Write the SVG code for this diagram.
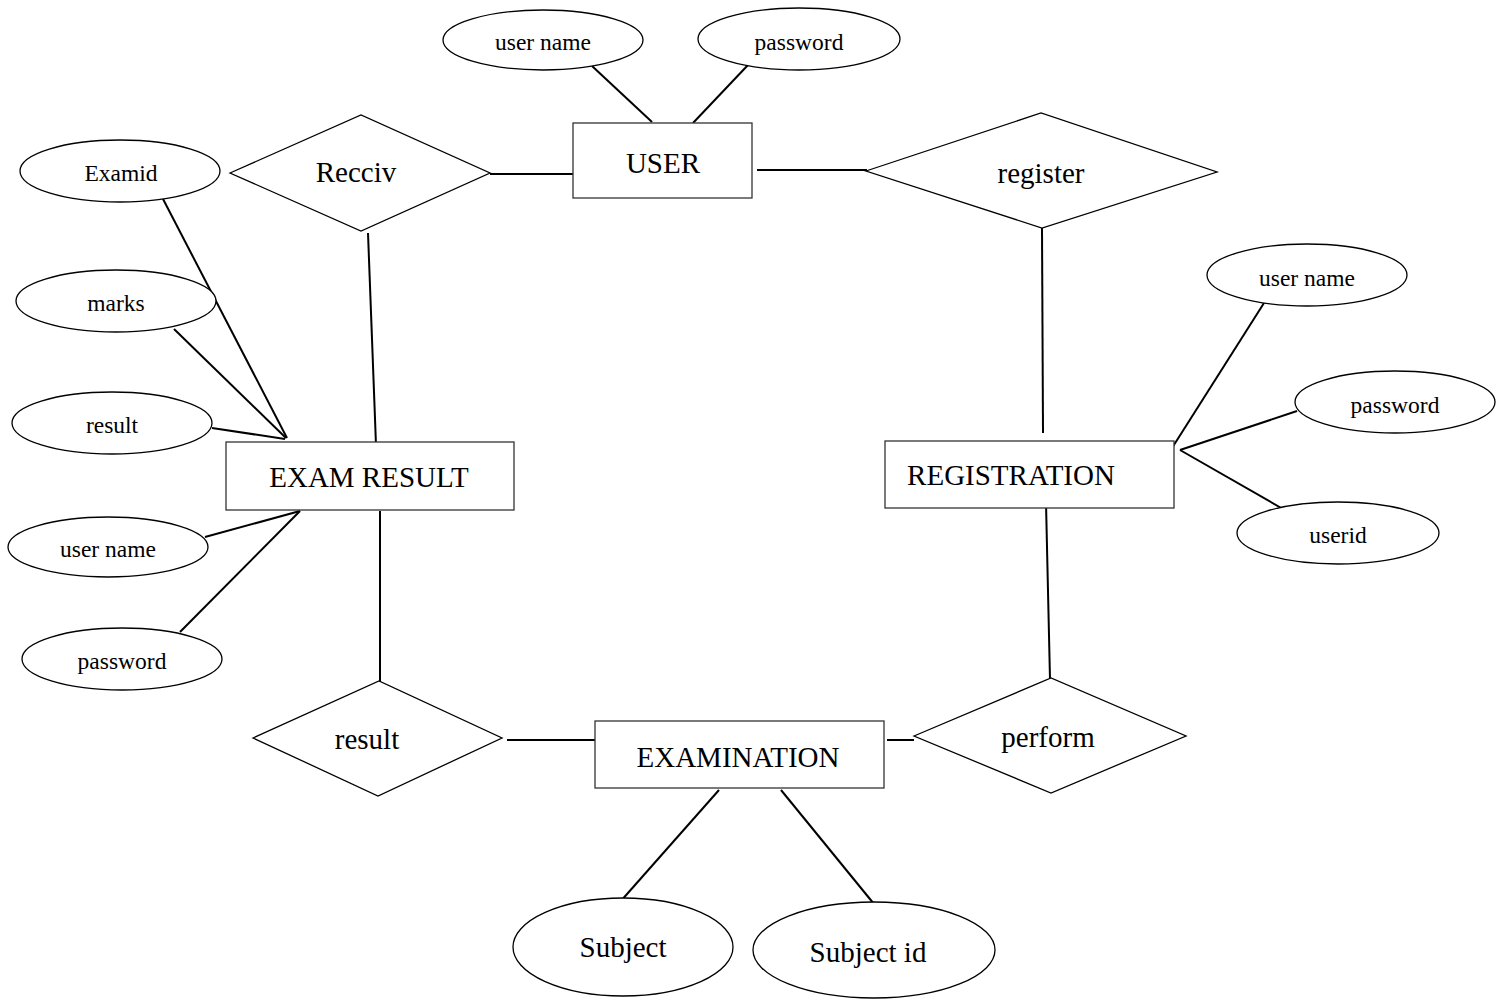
<svg xmlns="http://www.w3.org/2000/svg" width="1504" height="1001" viewBox="0 0 1504 1001">
<style>
.shape{fill:#fff;stroke:#000;stroke-width:1.3}
.ent{fill:#fff;stroke:#333;stroke-width:1.3}
.ln{stroke:#000;stroke-width:2;fill:none}
.big{font-family:"Liberation Serif","Times New Roman",serif;font-size:29px;fill:#000;text-anchor:middle}
.sm{font-family:"Liberation Serif","Times New Roman",serif;font-size:23.5px;fill:#000;text-anchor:middle}
</style>
<rect width="1504" height="1001" fill="#fff"/>
<g id="connectors">
<line class="ln" x1="592" y1="66" x2="652" y2="122"/>
<line class="ln" x1="748" y1="65" x2="693" y2="123"/>
<line class="ln" x1="490" y1="174" x2="576" y2="174"/>
<line class="ln" x1="757" y1="170" x2="867" y2="170"/>
<line class="ln" x1="1042" y1="228" x2="1043" y2="433"/>
<line class="ln" x1="1264" y1="303" x2="1172" y2="448"/>
<line class="ln" x1="1297" y1="411" x2="1180" y2="450"/>
<line class="ln" x1="1180" y1="450" x2="1283" y2="509"/>
<line class="ln" x1="1046" y1="503" x2="1050" y2="679"/>
<line class="ln" x1="887" y1="740" x2="914" y2="740"/>
<line class="ln" x1="507" y1="740" x2="598" y2="740"/>
<line class="ln" x1="719" y1="790" x2="620" y2="902"/>
<line class="ln" x1="781" y1="790" x2="874" y2="904"/>
<line class="ln" x1="163" y1="199" x2="287" y2="438"/>
<line class="ln" x1="174" y1="329" x2="286" y2="438"/>
<line class="ln" x1="212" y1="428" x2="285" y2="439"/>
<line class="ln" x1="368" y1="233" x2="376" y2="445"/>
<line class="ln" x1="205" y1="537" x2="300" y2="511"/>
<line class="ln" x1="180" y1="632" x2="300" y2="511"/>
<line class="ln" x1="380" y1="511" x2="380" y2="683"/>
</g>
<g id="user">
<rect class="ent" x="573" y="123" width="179" height="75"/>
<text class="big" x="663" y="173">USER</text>
</g>
<g id="user-username">
<ellipse class="shape" cx="543" cy="40" rx="100" ry="30"/>
<text class="sm" x="543" y="50">user name</text>
</g>
<g id="user-password">
<ellipse class="shape" cx="799" cy="39" rx="101" ry="31"/>
<text class="sm" x="799" y="50">password</text>
</g>
<g id="recciv">
<polygon class="shape" points="230,173 361,115 490,173 361,231"/>
<text class="big" x="356" y="182">Recciv</text>
</g>
<g id="register">
<polygon class="shape" points="866,171 1041,113 1217,172 1042,228"/>
<text class="big" x="1041" y="183">register</text>
</g>
<g id="registration">
<rect class="ent" x="885" y="441" width="289" height="67"/>
<text class="big" x="1011" y="485">REGISTRATION</text>
</g>
<g id="reg-username">
<ellipse class="shape" cx="1307" cy="275" rx="100" ry="31"/>
<text class="sm" x="1307" y="286">user name</text>
</g>
<g id="reg-password">
<ellipse class="shape" cx="1395" cy="402" rx="100" ry="31"/>
<text class="sm" x="1395" y="413">password</text>
</g>
<g id="reg-userid">
<ellipse class="shape" cx="1338" cy="533" rx="101" ry="31"/>
<text class="sm" x="1338" y="543">userid</text>
</g>
<g id="perform">
<polygon class="shape" points="914,736 1051,678 1186,736 1051,793"/>
<text class="big" x="1048" y="747">perform</text>
</g>
<g id="examination">
<rect class="ent" x="595" y="721" width="289" height="67"/>
<text class="big" x="738" y="767">EXAMINATION</text>
</g>
<g id="subject">
<ellipse class="shape" cx="623" cy="947" rx="110" ry="49"/>
<text class="big" x="623" y="957">Subject</text>
</g>
<g id="subject-id">
<ellipse class="shape" cx="874" cy="950" rx="121" ry="48"/>
<text class="big" x="868" y="962">Subject id</text>
</g>
<g id="result-rel">
<polygon class="shape" points="253,738 379,681 502,738 378,796"/>
<text class="big" x="367" y="749">result</text>
</g>
<g id="exam-result">
<rect class="ent" x="226" y="442" width="288" height="68"/>
<text class="big" x="369" y="487">EXAM RESULT</text>
</g>
<g id="er-examid">
<ellipse class="shape" cx="120" cy="171" rx="100" ry="31"/>
<text class="sm" x="121" y="181">Examid</text>
</g>
<g id="er-marks">
<ellipse class="shape" cx="116" cy="301" rx="100" ry="31"/>
<text class="sm" x="116" y="311">marks</text>
</g>
<g id="er-result">
<ellipse class="shape" cx="112" cy="423" rx="100" ry="31"/>
<text class="sm" x="112" y="433">result</text>
</g>
<g id="er-username">
<ellipse class="shape" cx="108" cy="547" rx="100" ry="30"/>
<text class="sm" x="108" y="557">user name</text>
</g>
<g id="er-password">
<ellipse class="shape" cx="122" cy="659" rx="100" ry="31"/>
<text class="sm" x="122" y="669">password</text>
</g>
</svg>
